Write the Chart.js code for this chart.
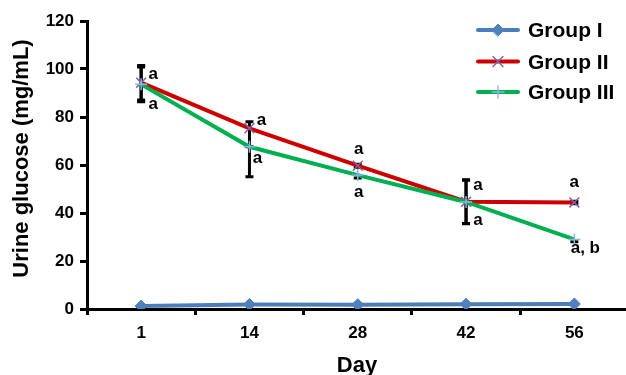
<!DOCTYPE html>
<html>
<head>
<meta charset="utf-8">
<script src="https://cdn.jsdelivr.net/npm/chart.js@4/dist/chart.umd.min.js"></script>
<style>
  html, body { margin: 0; padding: 0; background: #ffffff; overflow: hidden; }
  #wrap { width: 626px; height: 375px; overflow: hidden; }
  #c { display: block; }
</style>
</head>
<body>
<div id="wrap"><canvas id="c" width="640" height="375"></canvas></div>
<script>
// Days of measurement
const days = ['1', '14', '28', '42', '56'];
const yTicks = [0, 20, 40, 60, 80, 100, 120];

// Mean urine glucose (mg/mL) per group
const groupI = [1.2, 1.9, 1.8, 2.0, 2.1];
const groupII = [94.3, 75.3, 59.7, 44.7, 44.4];
const groupIII = [93.6, 67.6, 55.8, 44.6, 29.0];

// Error bar extents (mg/mL) above / below each mean
const groupIIPlus = [7.2, 2.7, 0.6, 9.2, 0.5];
const groupIIMinus = [7.2, 7.7, 0.6, 9.2, 0.5];
const groupIIIPlus = [7.2, 0, 0, 9.0, 0];
const groupIIIMinus = [7.2, 12.5, 1.2, 9.0, 1.0];

// Significance letters
const lettersII = ['a', 'a', 'a', 'a', 'a'];
const lettersIII = ['a', 'a', 'a', 'a', 'a, b'];

const FONT = '"Liberation Sans", Arial, Helvetica, sans-serif';

const seriesStyle = [
  { label: 'Group I', line: '#4A7EBB', point: 'rectRot', pointColor: '#4F81BD', pointFill: '#4F81BD', radius: 6, pointWidth: 1 },
  { label: 'Group II', line: '#CC0000', point: 'crossRot', pointColor: '#7F64A8', pointFill: '#7F64A8', radius: 7, pointWidth: 1.5 },
  { label: 'Group III', line: '#00B050', point: 'cross', pointColor: '#8EB4E3', pointFill: '#8EB4E3', radius: 6, pointWidth: 1.5 }
];

function makeDataset(values, s, order) {
  return {
    label: s.label,
    data: values,
    borderColor: s.line,
    backgroundColor: s.line,
    borderWidth: 4,
    tension: 0,
    pointStyle: s.point,
    pointRadius: s.radius,
    pointHoverRadius: s.radius,
    pointBackgroundColor: s.pointFill,
    pointBorderColor: s.pointColor,
    pointBorderWidth: s.pointWidth,
    order: order
  };
}

// Error bars: vertical black bars with caps, drawn through the y scale
const errorBars = {
  id: 'errorBars',
  beforeDatasetsDraw(chart) {
    const ctx = chart.ctx;
    const x = chart.scales.x, y = chart.scales.y;
    const groups = [
      { v: groupII, plus: groupIIPlus, minus: groupIIMinus },
      { v: groupIII, plus: groupIIIPlus, minus: groupIIIMinus }
    ];
    ctx.save();
    ctx.strokeStyle = '#000000';
    ctx.lineWidth = 3;
    ctx.lineCap = 'butt';
    const cap = 4;
    groups.forEach(g => {
      g.v.forEach((val, i) => {
        const px = x.getPixelForValue(i);
        const p0 = y.getPixelForValue(val);
        [[g.plus[i], 1], [g.minus[i], -1]].forEach(([e, dir]) => {
          if (!e) return;
          const p1 = y.getPixelForValue(val + dir * e);
          ctx.beginPath();
          ctx.moveTo(px, p0);
          ctx.lineTo(px, p1);
          ctx.moveTo(px - cap, p1);
          ctx.lineTo(px + cap, p1);
          ctx.stroke();
        });
      });
    });
    ctx.restore();
  }
};

// Letters, axis titles and legend
const overlay = {
  id: 'overlay',
  afterDraw(chart) {
    const ctx = chart.ctx;
    const x = chart.scales.x, y = chart.scales.y;
    ctx.save();
    ctx.fillStyle = '#000000';

    // significance letters
    ctx.font = 'bold 17px ' + FONT;
    ctx.textAlign = 'center';
    ctx.textBaseline = 'middle';
    const upOff = [[12, -8], [12, -8], [1, -16], [12, -16], [0, -20]];
    const lowOff = [[12, 20], [8, 12], [1, 17], [12, 18], [11, 9]];
    lettersII.forEach((t, i) => {
      ctx.fillText(t, x.getPixelForValue(i) + upOff[i][0], y.getPixelForValue(groupII[i]) + upOff[i][1]);
    });
    lettersIII.forEach((t, i) => {
      ctx.fillText(t, x.getPixelForValue(i) + lowOff[i][0], y.getPixelForValue(groupIII[i]) + lowOff[i][1]);
    });

    // axis titles
    ctx.font = 'bold 22px ' + FONT;
    ctx.textBaseline = 'alphabetic';
    ctx.textAlign = 'center';
    ctx.fillText('Day', 357, 372);
    ctx.save();
    ctx.translate(28, 158.5);
    ctx.rotate(-Math.PI / 2);
    ctx.fillText('Urine glucose (mg/mL)', 0, 0);
    ctx.restore();

    // legend
    ctx.font = 'bold 21px ' + FONT;
    ctx.textAlign = 'left';
    const lx0 = 478, lx1 = 518, tx = 528;
    const rows = [30, 61.5, 92];
    chart.data.datasets.forEach((ds, i) => {
      const ly = rows[i];
      ctx.strokeStyle = ds.borderColor;
      ctx.lineWidth = 4;
      ctx.lineCap = 'round';
      ctx.beginPath();
      ctx.moveTo(lx0, ly);
      ctx.lineTo(lx1, ly);
      ctx.stroke();
      ctx.fillStyle = ds.pointBackgroundColor;
      ctx.strokeStyle = ds.pointBorderColor;
      ctx.lineWidth = ds.pointBorderWidth;
      Chart.helpers.drawPoint(ctx, { pointStyle: ds.pointStyle, radius: ds.pointRadius, borderWidth: ds.pointBorderWidth, rotation: 0 }, (lx0 + lx1) / 2, ly);
      ctx.fillStyle = '#000000';
      ctx.fillText(ds.label, tx, ly + 7);
    });
    ctx.restore();
  }
};

new Chart(document.getElementById('c'), {
  type: 'line',
  data: {
    labels: days,
    datasets: [
      makeDataset(groupI, seriesStyle[0], 2),
      makeDataset(groupII, seriesStyle[1], 1),
      makeDataset(groupIII, seriesStyle[2], 0)
    ]
  },
  options: {
    responsive: false,
    animation: false,
    events: [],
    layout: { padding: { top: 21, right: 11.5, bottom: 0, left: 0 } },
    plugins: {
      legend: { display: false },
      tooltip: { enabled: false },
      title: { display: false }
    },
    scales: {
      x: {
        type: 'category',
        offset: true,
        grid: { offset: true, drawOnChartArea: false, color: '#000000', lineWidth: 3, tickLength: 6 },
        border: { display: true, color: '#000000', width: 3 },
        ticks: { color: '#000000', font: { family: FONT, size: 17, weight: 'bold' }, padding: 8, maxRotation: 0 },
        afterFit(scale) { scale.height = 66; }
      },
      y: {
        min: 0,
        max: 120,
        afterBuildTicks(scale) { scale.ticks = yTicks.map(v => ({ value: v })); },
        grid: { drawOnChartArea: false, color: '#000000', lineWidth: 3, tickLength: 7 },
        border: { display: true, color: '#000000', width: 3 },
        ticks: { color: '#000000', font: { family: FONT, size: 17, weight: 'bold' }, padding: 6 },
        afterFit(scale) { scale.width = 87; }
      }
    }
  },
  plugins: [errorBars, overlay]
});
</script>
</body>
</html>
